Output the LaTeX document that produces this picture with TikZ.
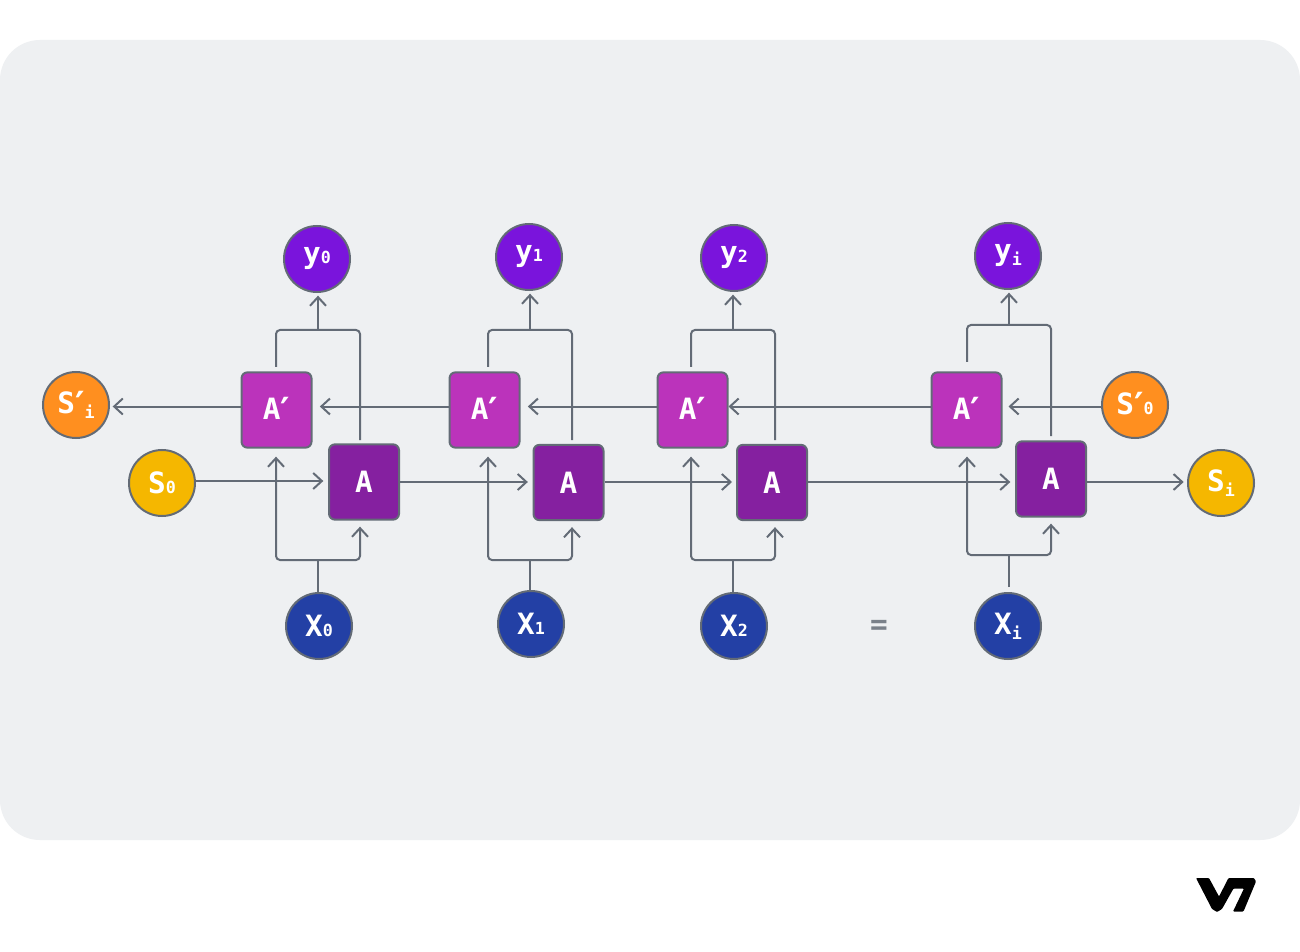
\documentclass[tikz,border=0pt]{standalone}
\usepackage{fontspec}
\setmainfont{DejaVu Sans Mono}[BoldFont={DejaVu Sans Mono Bold}]
\newfontfamily\primefont{DejaVu Sans}[BoldFont={DejaVu Sans Bold}]
\usetikzlibrary{arrows.meta,calc}
\definecolor{panelbg}{HTML}{EEF0F2}
\definecolor{linecol}{HTML}{636B76}
\definecolor{ycol}{HTML}{7A14DC}
\definecolor{spcol}{HTML}{FF8F1F}
\definecolor{scol}{HTML}{F5B700}
\definecolor{xcol}{HTML}{2340A5}
\definecolor{apcol}{HTML}{BB33BB}
\definecolor{acol}{HTML}{8520A0}
\newcommand{\lowsub}[1]{{\fontsize{12.5}{12.5}\selectfont\bfseries #1}}
\newcommand{\dropsub}[1]{\raisebox{-3.5pt}{\lowsub{#1}}}
\newcommand{\primemark}{\raisebox{-3pt}{\primefont\bfseries\fontsize{27}{27}\selectfont ′}}
\tikzset{
  x=0.75pt,y=-0.75pt,
  circ/.style={circle,draw=linecol,line width=1.5pt,minimum size=49.5pt,inner sep=0pt,text=white,font=\fontsize{22}{22}\selectfont\bfseries},
  bx/.style={rectangle,draw=linecol,line width=1.5pt,rounded corners=4.5pt,minimum width=52.5pt,minimum height=56.5pt,inner sep=0pt,text=white,font=\fontsize{22}{22}\selectfont\bfseries},
  conn/.style={draw=linecol,line width=1.5pt},
  arr/.style={conn,-{Straight Barb[length=6.5pt,width=12pt]}},
}
\begin{document}
\begin{tikzpicture}
\useasboundingbox (0,0) rectangle (1300,952);
\fill[white] (0,0) rectangle (1300,952);
\fill[panelbg,rounded corners=30pt] (0,40) rectangle (1300,840);

% outputs
\node[circ,fill=ycol] (y0) at (317,259) {y\lowsub{0}};
\node[circ,fill=ycol] (y1) at (529,257) {y\lowsub{1}};
\node[circ,fill=ycol] (y2) at (734,258) {y\lowsub{2}};
\node[circ,fill=ycol] (y3) at (1008,256) {y\dropsub{i}};
% inputs
\node[circ,fill=xcol] (x0) at (319,626) {X\lowsub{0}};
\node[circ,fill=xcol] (x1) at (531,624) {X\lowsub{1}};
\node[circ,fill=xcol] (x2) at (734,626) {X\lowsub{2}};
\node[circ,fill=xcol] (x3) at (1008,626) {X\dropsub{i}};
% states
\node[circ,fill=spcol] (spi) at (76,405) {S\primemark\dropsub{i}};
\node[circ,fill=scol] (s0) at (162,483) {S\lowsub{0}};
\node[circ,fill=spcol] (sp0) at (1135,405) {S\primemark\lowsub{0}};
\node[circ,fill=scol] (si) at (1221,483) {S\dropsub{i}};
% cells
\node[bx,fill=apcol] (ap0) at (276.5,410) {A\primemark};
\node[bx,fill=apcol] (ap1) at (484.5,410) {A\primemark};
\node[bx,fill=apcol] (ap2) at (692.5,410) {A\primemark};
\node[bx,fill=apcol] (ap3) at (966.5,410) {A\primemark};
\node[bx,fill=acol] (a0) at (364,482) {A};
\node[bx,fill=acol] (a1) at (568.5,482.5) {A};
\node[bx,fill=acol] (a2) at (772,482.5) {A};
\node[bx,fill=acol] (a3) at (1051,479) {A};

\node[text=linecol!85!white,font=\fontsize{22}{22}\selectfont\bfseries] (eq) at (879,627) {=};

% column connectors: index / left x / mid x / right x / top y / bottom y / start of the left top stub / A top end / input stub start
\foreach \c/\lx/\mx/\rx/\ty/\by/\ls/\re/\xs in {
  0/276/318/360/330/560/367/440/592,
  1/488/530/572/330/560/367/440/590,
  2/691/733/775/330/560/367/440/592,
  3/967/1009/1051/325/555/362/436/587}{
  \coordinate (ls\c) at (\lx,\ls);
  \coordinate (re\c) at (\rx,\re);
  \coordinate (tj\c) at (\mx,\ty);
  \coordinate (tl\c) at (\lx,\ty);
  \coordinate (tr\c) at (\rx,\ty);
  \coordinate (bj\c) at (\mx,\by);
  \coordinate (bl\c) at (\lx,\by);
  \coordinate (br\c) at (\rx,\by);
  \coordinate (xs\c) at (\mx,\xs);
  % merge of A' and A into the output
  \draw[conn,rounded corners=3pt] (ls\c) -- (tl\c) -- (tr\c) -- (re\c);
  \draw[arr,shorten >=2pt] (tj\c) -- (tj\c |- y\c.south);
  % input split to A' and A
  \draw[conn] (xs\c) -- (bj\c);
  \draw[arr,rounded corners=3pt,shorten >=6pt] (bj\c) -- (bl\c) -- (bl\c |- ap\c.south);
  \draw[arr,rounded corners=3pt,shorten >=4.5pt] (bj\c) -- (br\c) -- (br\c |- a\c.south);
}

% backward chain
\coordinate (bk) at (0,406.5);
\draw[arr,shorten >=2pt] (ap0.west |- bk) -- (spi.east |- bk);
\draw[arr,shorten >=5.5pt] (ap1.west |- bk) -- (ap0.east |- bk);
\draw[arr,shorten >=5.5pt] (ap2.west |- bk) -- (ap1.east |- bk);
\draw[arr,shorten >=0pt] (ap3.west |- bk) -- (ap2.east |- bk);
\draw[arr,shorten >=4.5pt] (sp0.west |- bk) -- (ap3.east |- bk);

% forward chain
\coordinate (fw) at (0,482);
\coordinate (fw0) at (0,481);
\draw[arr,shorten >=3.5pt] (s0.east |- fw0) -- (a0.west |- fw0);
\draw[arr,shorten >=3.5pt] (a0.east |- fw) -- (a1.west |- fw);
\draw[arr,shorten >=3pt] (a1.east |- fw) -- (a2.west |- fw);
\draw[arr,shorten >=3.5pt] (a2.east |- fw) -- (a3.west |- fw);
\draw[arr,shorten >=2.5pt] (a3.east |- fw) -- (si.west |- fw);

% logo
\fill[black,rounded corners=0.7pt]
  (1196,878) -- (1209,878) -- (1219,896.5) -- (1228.5,878) -- (1254,878)
  -- (1256,881.5) -- (1243.5,911.5) -- (1233,911.5) -- (1244,888.5) -- (1233.5,888.5)
  -- (1222,909) -- (1217,912) -- (1212,909) -- cycle;
\end{tikzpicture}
\end{document}
